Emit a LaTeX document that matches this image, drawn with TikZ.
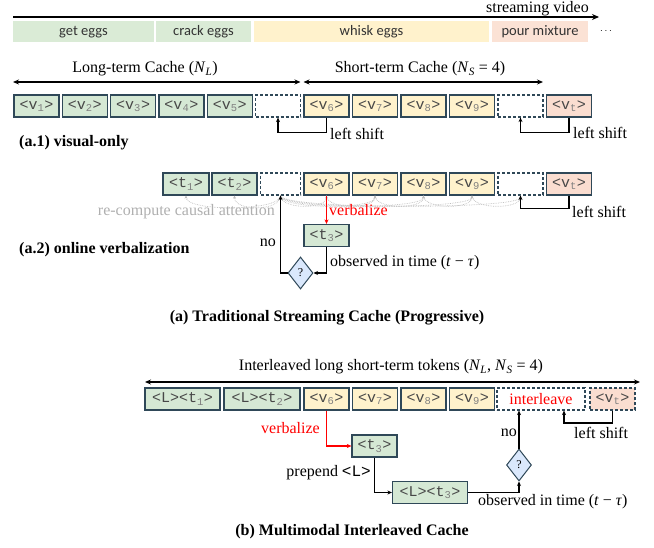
\documentclass[tikz,border=0pt]{standalone}
\usepackage{fontspec}
\setmainfont{Liberation Serif}
\setmonofont{Liberation Mono}
\newfontfamily\carl{Carlito}
\usetikzlibrary{shapes.geometric,arrows.meta}
\definecolor{gfill}{RGB}{213,232,212}
\definecolor{yfill}{RGB}{255,242,204}
\definecolor{pfill}{RGB}{250,221,208}
\definecolor{sgreen}{RGB}{218,235,214}
\definecolor{spink}{RGB}{251,226,213}
\definecolor{bord}{RGB}{47,72,88}
\definecolor{bfill}{RGB}{218,232,252}
\definecolor{attg}{RGB}{190,190,190}
\definecolor{attt}{RGB}{175,175,175}
\newcommand\tk[2]{<#1\textsubscript{\color{black!50}#2}>}
\begin{document}
\begin{tikzpicture}[x=1pt,y=-1pt,
  lbl/.style={font=\fontsize{16}{19}\selectfont, inner sep=1pt},
  captxt/.style={font=\bfseries\fontsize{16}{19}\selectfont, inner sep=1pt},
  tok/.style={draw=bord, line width=1.2pt, minimum width=45pt, minimum height=22pt, inner sep=0pt, font=\ttfamily\fontsize{15}{17}\selectfont, text=black!72},
  gtok/.style={tok, fill=gfill},
  ytok/.style={tok, fill=yfill},
  ptok/.style={tok, fill=pfill},
  dtok/.style={tok, fill=white, dash pattern=on 3pt off 2pt},
  seg/.style={minimum height=21pt, inner sep=0pt, font=\carl\fontsize{14.5}{16}\selectfont, text=black!80},
  conn/.style={line width=1.1pt, -{Stealth[length=4.5pt,width=4pt]}},
  dbl/.style={line width=1.3pt, {Stealth[length=6pt,width=5pt]}-{Stealth[length=6pt,width=5pt]}},
  att/.style={draw=attg, line width=0.7pt, densely dotted, -{Stealth[length=3pt,width=3pt]}},
  dia/.style={diamond, draw=bord, fill=bfill, line width=1pt, minimum width=25pt, minimum height=32pt, inner sep=0pt, font=\fontsize{12}{14}\selectfont}]
\useasboundingbox (0,0) rectangle (654,548);

% ---------- streaming video header ----------
\coordinate (ts) at (13,17);
\coordinate (te) at (599,17);
\draw[line width=1.9pt, -{Stealth[length=7pt,width=6pt]}] (ts) -- (te);
\node[font=\fontsize{16}{18}\selectfont, inner sep=0pt, anchor=base east] (sv) at (589,12.5) {streaming video};
\node[seg, fill=sgreen, minimum width=141pt] (s1) at (83.5,32) {get eggs};
\node[seg, fill=sgreen, minimum width=95pt] (s2) at (203.5,32) {crack eggs};
\node[seg, fill=yfill, minimum width=235pt] (s3) at (371.5,32) {whisk eggs};
\node[seg, fill=spink, minimum width=96pt] (s4) at (540,32) {pour mixture};
\node[inner sep=0pt] (dots) at (606,31) {$\cdots$};

% ---------- (a.1) ----------
\coordinate (la) at (13,82);
\coordinate (lb) at (300.5,82);
\coordinate (sa) at (303.5,82);
\coordinate (sb) at (543,82);
\draw[dbl] (la) -- (lb);
\draw[dbl] (sa) -- (sb);
\node[lbl] (ltc) at (145,69) {Long-term Cache (\textit{N}\textsubscript{\textit{L}})};
\node[lbl] (stc) at (420,69) {Short-term Cache (\textit{N}\textsubscript{\textit{S}} = 4)};

\node[gtok] (v1) at (36.5,106) {\tk{v}{1}};
\node[gtok] (v2) at (84.8,106) {\tk{v}{2}};
\node[gtok] (v3) at (133.1,106) {\tk{v}{3}};
\node[gtok] (v4) at (181.4,106) {\tk{v}{4}};
\node[gtok] (v5) at (229.7,106) {\tk{v}{5}};
\node[dtok] (d1) at (278,106) {};
\node[ytok] (v6) at (326.5,106) {\tk{v}{6}};
\node[ytok] (v7) at (375,106) {\tk{v}{7}};
\node[ytok] (v8) at (423.5,106) {\tk{v}{8}};
\node[ytok] (v9) at (472,106) {\tk{v}{9}};
\node[dtok] (d2) at (520.5,106) {};
\node[ptok] (vt) at (569,106) {\tk{v}{t}};

\draw[conn] (v6.south) -- ++(0,15) -| (d1.south);
\draw[conn] (vt.south) -- ++(0,15) -| (d2.south);
\node[lbl, anchor=west] (ls1) at (329,134) {left shift};
\node[lbl, anchor=west] (ls2) at (572,133) {left shift};
\node[captxt, anchor=west] (a1) at (18,143) {(a.1) visual-only};

% ---------- (a.2) ----------
\node[gtok, minimum width=46pt] (t1a) at (186,184) {\tk{t}{1}};
\node[gtok, minimum width=45pt] (t2a) at (234.5,184) {\tk{t}{2}};
\node[dtok, minimum width=40pt] (d1a) at (280.5,184) {};
\node[ytok] (v6a) at (326.5,184) {\tk{v}{6}};
\node[ytok] (v7a) at (375,184) {\tk{v}{7}};
\node[ytok] (v8a) at (423.5,184) {\tk{v}{8}};
\node[ytok] (v9a) at (472,184) {\tk{v}{9}};
\node[dtok] (d2a) at (520.5,184) {};
\node[ptok] (vta) at (569,184) {\tk{v}{t}};

% attention arcs
\foreach \n in {t1a,t2a}{
  \draw[att] (d1a.south) .. controls +(0,16) and +(0,16) .. (\n.south);
}
\foreach \n in {v6a,v7a,v8a,v9a,d2a}{
  \draw[att] (d1a.south) .. controls +(0,14) and +(0,14) .. (\n.south);
}
\draw[att] (v6a.south) .. controls +(0,14) and +(0,14) .. (v7a.south);
\draw[att] (v7a.south) .. controls +(0,14) and +(0,14) .. (v8a.south);
\draw[att] (v8a.south) .. controls +(0,14) and +(0,14) .. (v9a.south);
\draw[att] (v9a.south) .. controls +(0,14) and +(0,14) .. (d2a.south);
\node[lbl, anchor=east, text=attt] (rca) at (276,212) {re-compute causal attention};

\node[gtok] (t3a) at (326.5,235.5) {\tk{t}{3}};
\node[dia] (dA) at (300.5,273) {?};
\draw[conn, red] (v6a.south) -- (t3a.north);
\node[lbl, anchor=west, text=red] (vba) at (328,210) {verbalize};
\draw[conn] (t3a.south) |- (dA.east);
\draw[conn] (dA.west) -| (d1a.south);
\node[lbl, anchor=east] (noa) at (277,243) {no};
\node[lbl, anchor=west] (oba) at (329,263) {observed in time (\textit{t} − \textit{τ})};
\draw[conn] (vta.south) -- ++(0,13) -| (d2a.south);
\node[lbl, anchor=west] (ls3) at (571,212) {left shift};
\node[captxt, anchor=west] (a2) at (18,250) {(a.2) online verbalization};

\node[captxt] (capa) at (327,318) {(a) Traditional Streaming Cache (Progressive)};

% ---------- (b) ----------
\coordinate (ba) at (145,382);
\coordinate (bb) at (640,382);
\draw[dbl] (ba) -- (bb);
\node[lbl] (ilt) at (391,367) {Interleaved long short-term tokens (\textit{N}\textsubscript{\textit{L}}, \textit{N}\textsubscript{\textit{S}} = 4)};

\node[gtok, minimum width=75pt] (lt1) at (182.5,399) {<L>\tk{t}{1}};
\node[gtok, minimum width=76pt] (lt2) at (262,399) {<L>\tk{t}{2}};
\node[ytok] (v6b) at (326.5,399) {\tk{v}{6}};
\node[ytok] (v7b) at (375,399) {\tk{v}{7}};
\node[ytok] (v8b) at (423.5,399) {\tk{v}{8}};
\node[ytok] (v9b) at (472,399) {\tk{v}{9}};
\node[dtok, minimum width=88pt, text=red, font=\fontsize{16}{19}\selectfont] (inter) at (541,399) {interleave};
\node[ptok, dash pattern=on 3pt off 2pt] (vtb) at (612.5,399) {\tk{v}{t}};

\node[gtok] (t3b) at (374.5,446) {\tk{t}{3}};
\node[gtok, minimum width=75pt] (lt3) at (430,492.5) {<L>\tk{t}{3}};
\node[dia] (dB) at (519,465) {?};

\draw[conn, red] (v6b.south) |- (t3b.west);
\node[lbl, anchor=east, text=red] (vbb) at (321,428) {verbalize};
\draw[conn] (t3b.south) |- (lt3.west);
\node[lbl, anchor=east] (pre) at (372,473) {prepend {\ttfamily<L>}};
\draw[conn] (lt3.east) -| (dB.south);
\node[lbl, anchor=west] (obb) at (477,502) {observed in time (\textit{t} − \textit{τ})};
\draw[conn] (dB.north) -- (dB.north |- inter.south);
\node[lbl, anchor=east] (nob) at (518,433) {no};
\coordinate (lsb) at (564,423);
\draw[conn] (vtb.south) |- (lsb) -- (lsb |- inter.south);
\node[lbl, anchor=west] (ls4) at (573,433) {left shift};

\node[captxt] (capb) at (352,532) {(b) Multimodal Interleaved Cache};
\end{tikzpicture}
\end{document}
